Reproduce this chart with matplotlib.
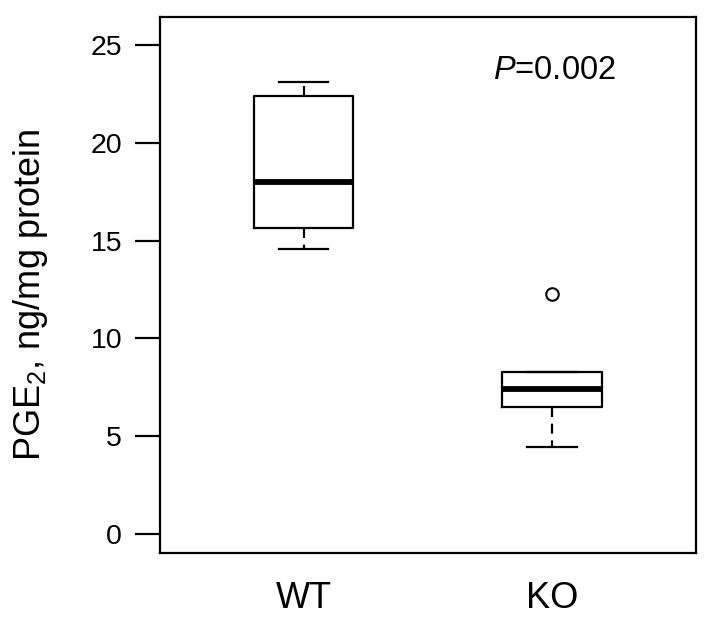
import matplotlib
matplotlib.use("Agg")
import matplotlib.pyplot as plt

plt.rcParams['font.family'] = ['Liberation Sans', 'DejaVu Sans']
plt.rcParams['mathtext.fontset'] = 'custom'
plt.rcParams['mathtext.rm'] = 'Liberation Sans'
plt.rcParams['mathtext.it'] = 'Liberation Sans:italic'
plt.rcParams['mathtext.default'] = 'regular'

# values
groups = ["WT", "KO"]
whislo = [14.56, 4.47]
q1 = [15.63, 6.50]
med = [17.99, 7.44]
q3 = [22.40, 8.27]
whishi = [23.08, 8.27]
fliers = [[], [12.27]]
yticks = [0, 5, 10, 15, 20, 25]
p_text = "$\\mathit{P}$=0.002"

stats = []
for i in range(len(groups)):
    stats.append(dict(label=groups[i], whislo=whislo[i], q1=q1[i], med=med[i],
                      q3=q3[i], whishi=whishi[i], fliers=fliers[i]))

fig = plt.figure(figsize=(7.14, 6.34), dpi=100)
ax = fig.add_axes([0.2234, 0.1273, 0.7514, 0.8459])

lw = 1.6
ax.bxp(stats, positions=[1, 2], widths=0.4, capwidths=0.2, showfliers=True,
       boxprops=dict(color='black', linewidth=lw),
       whiskerprops=dict(color='black', linewidth=lw, linestyle=(0, (4.5, 3))),
       capprops=dict(color='black', linewidth=lw),
       medianprops=dict(color='black', linewidth=4.2, solid_capstyle='butt'),
       flierprops=dict(marker='o', markerfacecolor='none', markeredgecolor='black',
                       markersize=9, markeredgewidth=1.5))

ax.set_xlim(0.42, 2.58)
ax.set_ylim(-0.97, 26.42)
ax.set_yticks(yticks)
ax.set_yticklabels([str(t) for t in yticks])
ax.set_xticks([1, 2])
ax.set_xticklabels(groups, fontsize=26)
ax.tick_params(axis='x', length=0, pad=20)
ax.tick_params(axis='y', length=18, width=lw, pad=9, labelsize=20.5)
for s in ax.spines.values():
    s.set_linewidth(lw)

ax.set_ylabel("PGE$_{2}$, ng/mg protein", fontsize=26)
ax.yaxis.set_label_coords(-0.205, 0.4826)
ax.text(2.01, 23.67, p_text, fontsize=23.5, ha='center', va='center')

fig.savefig("out.png", dpi=100)
